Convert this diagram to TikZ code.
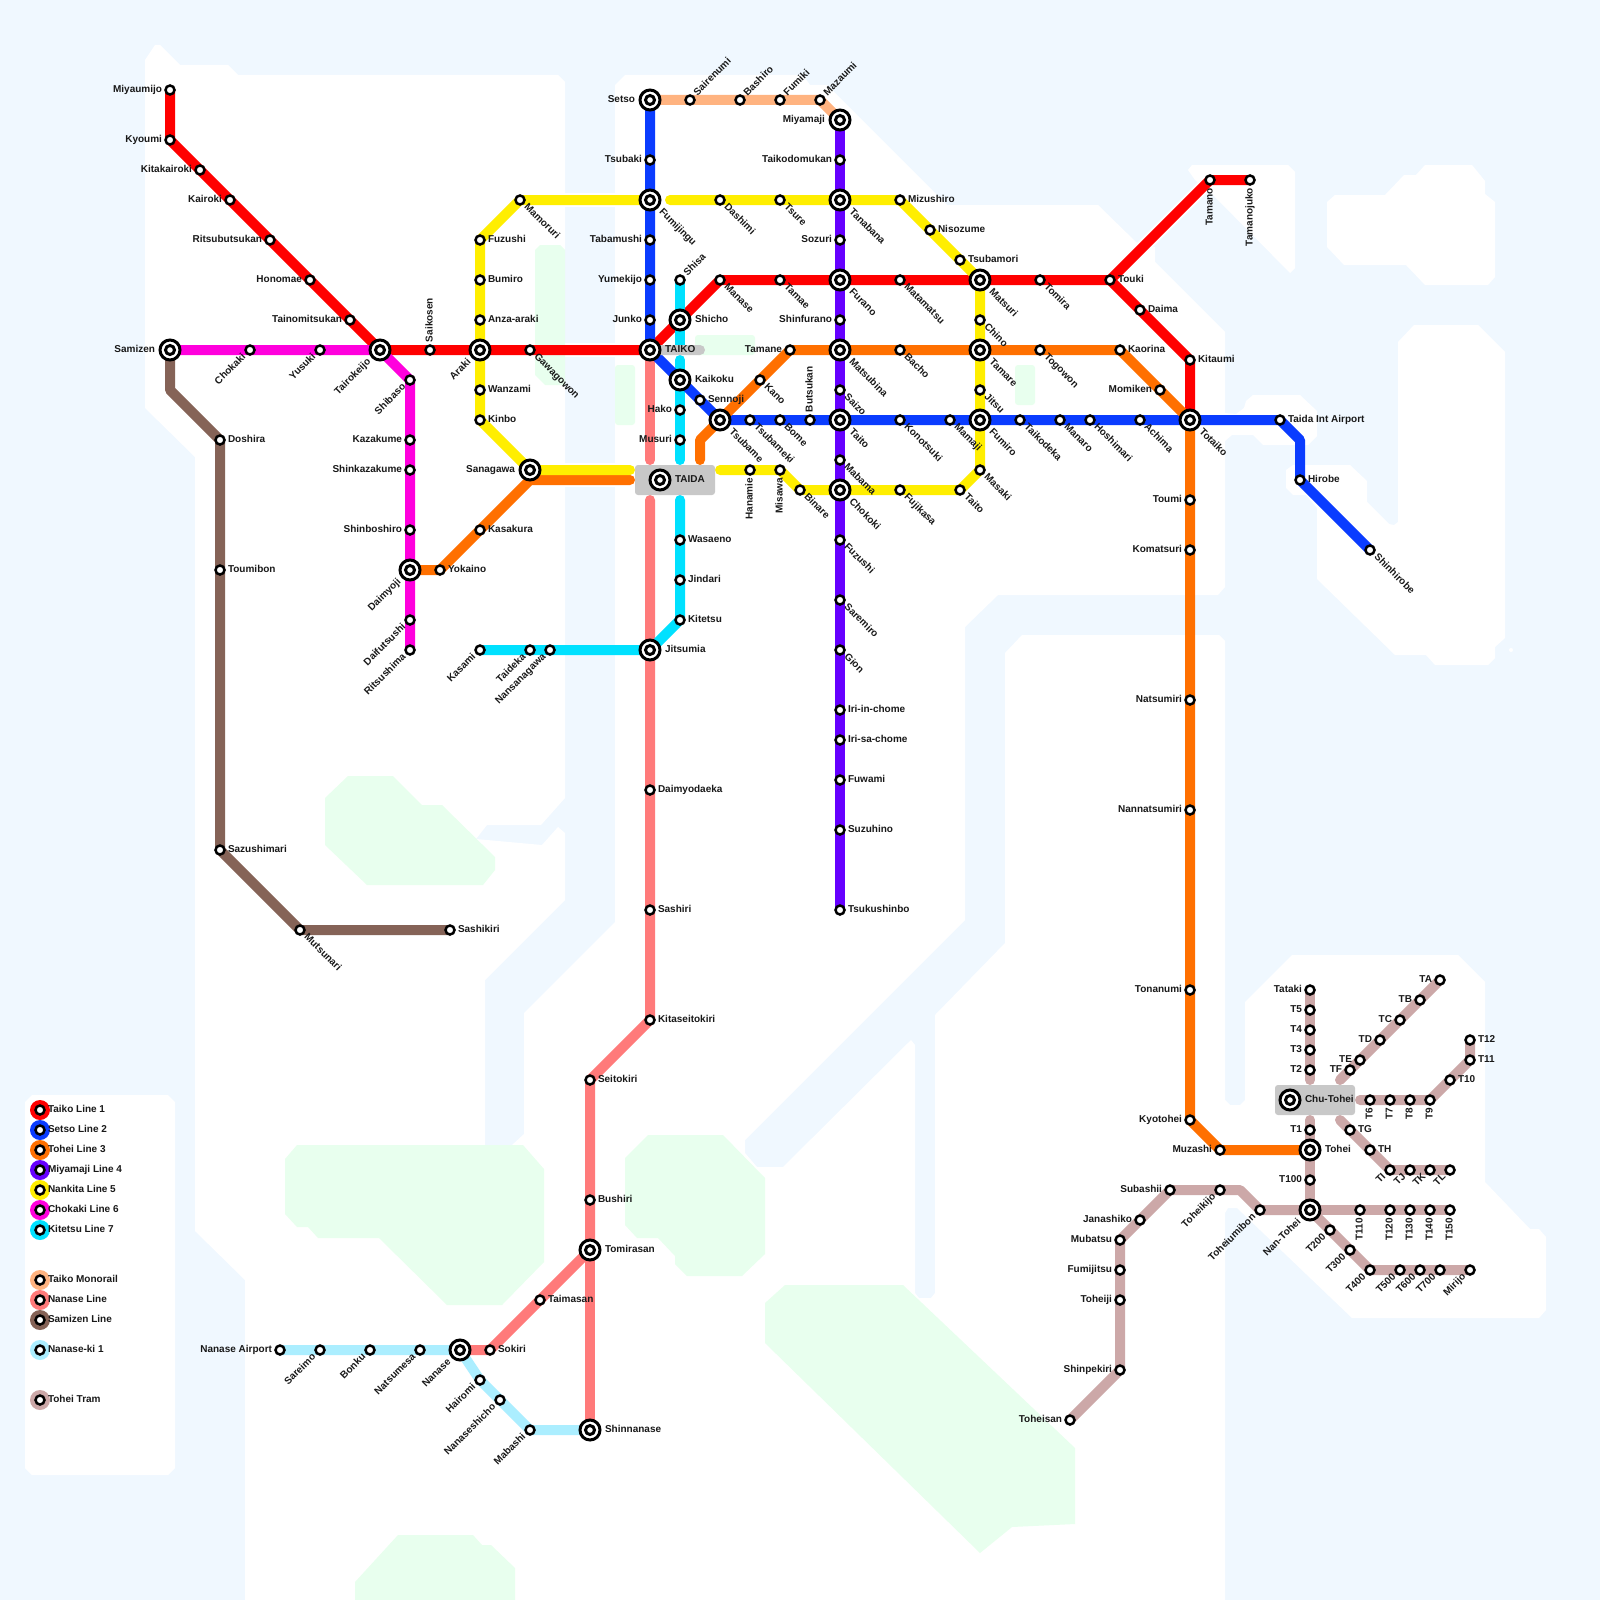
\documentclass[tikz,border=0pt]{standalone}
\usepackage{fontspec}
\usepackage{xcolor}
\usepackage{tikz}
\usetikzlibrary{calc}
\setmainfont{Liberation Sans}
\definecolor{sea}{HTML}{F0F8FF}
\definecolor{park}{HTML}{E8FFEE}
\definecolor{hubbox}{HTML}{C8C8C8}
\definecolor{taikored}{HTML}{FF0000}
\definecolor{setsoblue}{HTML}{0A3CFF}
\definecolor{toheiorange}{HTML}{FF7000}
\definecolor{miyamajipurple}{HTML}{6600FF}
\definecolor{nankitayellow}{HTML}{FFEE00}
\definecolor{chokakipink}{HTML}{FF00DD}
\definecolor{kitetsucyan}{HTML}{00E1FF}
\definecolor{monorailtan}{HTML}{FFB380}
\definecolor{nanasesalmon}{HTML}{FF7A7A}
\definecolor{samizenbrown}{HTML}{856357}
\definecolor{nanasekisky}{HTML}{ABEEFF}
\definecolor{tramrose}{HTML}{CCA8A8}
\pgfdeclarelayer{land}
\pgfdeclarelayer{tracks}
\pgfsetlayers{land,tracks,main}

\begin{document}
\begin{tikzpicture}[
    x=1pt, y=-1pt,
    stn/.style={circle, draw=black, line width=2.5pt, fill=white, inner sep=0pt, outer sep=3.5pt, minimum size=9pt},
    hub/.style={circle, draw=black, line width=3pt, fill=white, inner sep=0pt, outer sep=5pt, minimum size=20pt,
        path picture={\draw[black, line width=3pt] (path picture bounding box.center) circle (4.5pt);}},
    lbltxt/.style={font=\bfseries\fontsize{10}{12}\selectfont, inner sep=0pt, outer sep=0pt, text height=7.2pt, text depth=2pt, text=black!90},
    lr/.style={label={[lbltxt, anchor=west]0:#1}},
    ll/.style={label={[lbltxt, anchor=east]180:#1}},
    lu/.style={label={[lbltxt, rotate=90, anchor=west]90:#1}},
    ld/.style={label={[lbltxt, rotate=90, anchor=east]-90:#1}},
    lur/.style={label={[lbltxt, rotate=45, anchor=west]45:#1}},
    ldr/.style={label={[lbltxt, rotate=-45, anchor=west]-45:#1}},
    ldl/.style={label={[lbltxt, rotate=45, anchor=east]-135:#1}},
    metro/.style={line width=10pt, line cap=round, line join=round},
    landfill/.style={fill=white},
    parkfill/.style={fill=park},
    hubplate/.style={fill=hubbox, rounded corners=3pt},
    legdot/.style={circle, fill=#1, inner sep=0pt, minimum size=20pt}
]
    \useasboundingbox (0,0) rectangle (1600,1600);

    % stations
    \node[stn, ll=Miyaumijo] (miyaumijo) at (170,90) {};
    \node[stn, ll=Kyoumi] (kyoumi) at (170,140) {};
    \node[stn, ll=Kitakairoki] (kitakairoki) at (200,170) {};
    \node[stn, ll=Kairoki] (kairoki) at (230,200) {};
    \node[stn, ll=Ritsubutsukan] (ritsubutsukan) at (270,240) {};
    \node[stn, ll=Honomae] (honomae) at (310,280) {};
    \node[stn, ll=Tainomitsukan] (tainomitsukan) at (350,320) {};
    \node[hub, ldl=Tairokeijo] (tairokeijo) at (380,350) {};
    \node[stn, lu=Saikosen] (saikosen) at (430,350) {};
    \node[hub, ldl=Araki] (araki) at (480,350) {};
    \node[stn, ldr=Gawagowon] (gawagowon) at (530,350) {};
    \node[hub, lr=TAIKO] (taiko) at (650,350) {};
    \node[hub, lr=Shicho] (shicho) at (680,320) {};
    \node[stn, ldr=Manase] (manase) at (720,280) {};
    \node[stn, ldr=Tamae] (tamae) at (780,280) {};
    \node[hub, ldr=Furano] (furano) at (840,280) {};
    \node[stn, ldr=Matamatsu] (matamatsu) at (900,280) {};
    \node[hub, ldr=Matsuri] (matsuri) at (980,280) {};
    \node[stn, ldr=Tomira] (tomira) at (1040,280) {};
    \node[stn, lr=Touki] (touki) at (1110,280) {};
    \node[stn, ld=Tamano] (tamano) at (1210,180) {};
    \node[stn, ld=Tamanojuko] (tamanojuko) at (1250,180) {};
    \node[stn, lr=Daima] (daima) at (1140,310) {};
    \node[stn, lr=Kitaumi] (kitaumi) at (1190,360) {};
    \node[hub, ldr=Totaiko] (totaiko) at (1190,420) {};

    \node[hub, ll=Setso] (setso) at (650,100) {};
    \node[stn, ll=Tsubaki] (tsubaki) at (650,160) {};
    \node[hub, ldr=Fumijingu] (fumijingu) at (650,200) {};
    \node[stn, ll=Tabamushi] (tabamushi) at (650,240) {};
    \node[stn, ll=Yumekijo] (yumekijo) at (650,280) {};
    \node[stn, ll=Junko] (junko) at (650,320) {};
    \node[hub, lr=Kaikoku] (kaikoku) at (680,380) {};
    \node[stn, lr=Sennoji] (sennoji) at (700,400) {};
    \node[hub, ldr=Tsubame] (tsubame) at (720,420) {};
    \node[stn, ldr=Tsubameki] (tsubameki) at (750,420) {};
    \node[stn, ldr=Bome] (bome) at (780,420) {};
    \node[stn, lu=Butsukan] (butsukan) at (810,420) {};
    \node[hub, ldr=Taito] (taitoa) at (840,420) {};
    \node[stn, ldr=Konotsuki] (konotsuki) at (900,420) {};
    \node[stn, ldr=Mamaji] (mamaji) at (950,420) {};
    \node[hub, ldr=Fumiro] (fumiro) at (980,420) {};
    \node[stn, ldr=Taikodeka] (taikodeka) at (1020,420) {};
    \node[stn, ldr=Manaro] (manaro) at (1060,420) {};
    \node[stn, ldr=Hoshimari] (hoshimari) at (1090,420) {};
    \node[stn, ldr=Achima] (achima) at (1140,420) {};
    \node[stn, lr=Taida Int Airport] (airport) at (1280,420) {};
    \node[stn, lr=Hirobe] (hirobe) at (1300,480) {};
    \node[stn, ldr=Shinhirobe] (shinhirobe) at (1370,550) {};

    \node[stn, lr=Yokaino] (yokaino) at (440,570) {};
    \node[stn, lr=Kasakura] (kasakura) at (480,530) {};
    \node[hub, ll=Sanagawa] (sanagawa) at (530,470) {};
    \node[stn, ldr=Kano] (kano) at (760,380) {};
    \node[stn, ll=Tamane] (tamane) at (790,350) {};
    \node[hub, ldr=Matsubina] (matsubina) at (840,350) {};
    \node[stn, ldr=Bacho] (bacho) at (900,350) {};
    \node[hub, ldr=Tamare] (tamare) at (980,350) {};
    \node[stn, ldr=Togowon] (togowon) at (1040,350) {};
    \node[stn, lr=Kaorina] (kaorina) at (1120,350) {};
    \node[stn, ll=Momiken] (momiken) at (1160,390) {};
    \node[stn, ll=Toumi] (toumi) at (1190,500) {};
    \node[stn, ll=Komatsuri] (komatsuri) at (1190,550) {};
    \node[stn, ll=Natsumiri] (natsumiri) at (1190,700) {};
    \node[stn, ll=Nannatsumiri] (nannatsumiri) at (1190,810) {};
    \node[stn, ll=Tonanumi] (tonanumi) at (1190,990) {};
    \node[stn, ll=Kyotohei] (kyotohei) at (1190,1120) {};
    \node[stn, ll=Muzashi] (muzashi) at (1220,1150) {};
    \node[hub, lr=Tohei] (tohei) at (1310,1150) {};

    \node[hub, ll=Miyamaji] (miyamaji) at (840,120) {};
    \node[stn, ll=Taikodomukan] (taikodomukan) at (840,160) {};
    \node[hub, ldr=Tanabana] (tanabana) at (840,200) {};
    \node[stn, ll=Sozuri] (sozuri) at (840,240) {};
    \node[stn, ll=Shinfurano] (shinfurano) at (840,320) {};
    \node[stn, ldr=Saizo] (saizo) at (840,390) {};
    \node[stn, ldr=Mabama] (mabama) at (840,460) {};
    \node[hub, ldr=Chokoki] (chokoki) at (840,490) {};
    \node[stn, ldr=Fuzushi] (fuzushib) at (840,540) {};
    \node[stn, ldr=Saremiro] (saremiro) at (840,600) {};
    \node[stn, ldr=Gion] (gion) at (840,650) {};
    \node[stn, lr=Iri-in-chome] (iriin) at (840,710) {};
    \node[stn, lr=Iri-sa-chome] (irisa) at (840,740) {};
    \node[stn, lr=Fuwami] (fuwami) at (840,780) {};
    \node[stn, lr=Suzuhino] (suzuhino) at (840,830) {};
    \node[stn, lr=Tsukushinbo] (tsukushinbo) at (840,910) {};

    \node[stn, ldr=Mamoruri] (mamoruri) at (520,200) {};
    \node[stn, lr=Fuzushi] (fuzushia) at (480,240) {};
    \node[stn, lr=Bumiro] (bumiro) at (480,280) {};
    \node[stn, lr=Anza-araki] (anzaaraki) at (480,320) {};
    \node[stn, lr=Wanzami] (wanzami) at (480,390) {};
    \node[stn, lr=Kinbo] (kinbo) at (480,420) {};
    \node[stn, ldr=Dashimi] (dashimi) at (720,200) {};
    \node[stn, ldr=Tsure] (tsure) at (780,200) {};
    \node[stn, lr=Mizushiro] (mizushiro) at (900,200) {};
    \node[stn, lr=Nisozume] (nisozume) at (930,230) {};
    \node[stn, lr=Tsubamori] (tsubamori) at (960,260) {};
    \node[stn, ldr=Chino] (chino) at (980,320) {};
    \node[stn, ldr=Jitsu] (jitsu) at (980,390) {};
    \node[stn, ldr=Masaki] (masaki) at (980,470) {};
    \node[stn, ldr=Taito] (taitob) at (960,490) {};
    \node[stn, ldr=Fujikasa] (fujikasa) at (900,490) {};
    \node[stn, ldr=Binare] (binare) at (800,490) {};
    \node[stn, ld=Misawa] (misawa) at (780,470) {};
    \node[stn, ld=Hanamie] (hanamie) at (750,470) {};

    \node[hub, ll=Samizen] (samizen) at (170,350) {};
    \node[stn, ldl=Chokaki] (chokaki) at (250,350) {};
    \node[stn, ldl=Yusuki] (yusuki) at (320,350) {};
    \node[stn, ldl=Shibaso] (shibaso) at (410,380) {};
    \node[stn, ll=Kazakume] (kazakume) at (410,440) {};
    \node[stn, ll=Shinkazakume] (shinkazakume) at (410,470) {};
    \node[stn, ll=Shinboshiro] (shinboshiro) at (410,530) {};
    \node[hub, ldl=Daimyoji] (daimyoji) at (410,570) {};
    \node[stn, ldl=Daifutsushi] (daifutsushi) at (410,620) {};
    \node[stn, ldl=Ritsushima] (ritsushima) at (410,650) {};

    \node[stn, lur=Shisa] (shisa) at (680,280) {};
    \node[stn, ll=Hako] (hako) at (680,410) {};
    \node[stn, ll=Musuri] (musuri) at (680,440) {};
    \node[hub, lr=TAIDA] (taida) at (660,480) {};
    \node[stn, lr=Wasaeno] (wasaeno) at (680,540) {};
    \node[stn, lr=Jindari] (jindari) at (680,580) {};
    \node[stn, lr=Kitetsu] (kitetsu) at (680,620) {};
    \node[hub, lr=Jitsumia] (jitsumia) at (650,650) {};
    \node[stn, ldl=Nansanagawa] (nansanagawa) at (550,650) {};
    \node[stn, ldl=Taideka] (taideka) at (530,650) {};
    \node[stn, ldl=Kasami] (kasami) at (480,650) {};

    \node[stn, lur=Sairenumi] (sairenumi) at (690,100) {};
    \node[stn, lur=Bashiro] (bashiro) at (740,100) {};
    \node[stn, lur=Fumiki] (fumiki) at (780,100) {};
    \node[stn, lur=Mazaumi] (mazaumi) at (820,100) {};

    \node[stn, lr=Daimyodaeka] (daimyodaeka) at (650,790) {};
    \node[stn, lr=Sashiri] (sashiri) at (650,910) {};
    \node[stn, lr=Kitaseitokiri] (kitaseitokiri) at (650,1020) {};
    \node[stn, lr=Seitokiri] (seitokiri) at (590,1080) {};
    \node[stn, lr=Bushiri] (bushiri) at (590,1200) {};
    \node[hub, lr=Tomirasan] (tomirasan) at (590,1250) {};
    \node[stn, lr=Taimasan] (taimasan) at (540,1300) {};
    \node[stn, lr=Sokiri] (sokiri) at (490,1350) {};
    \node[hub, ldl=Nanase] (nanase) at (460,1350) {};
    \node[hub, lr=Shinnanase] (shinnanase) at (590,1430) {};

    \node[stn, ll=Nanase Airport] (nanaseairport) at (280,1350) {};
    \node[stn, ldl=Sareimo] (sareimo) at (320,1350) {};
    \node[stn, ldl=Bonku] (bonku) at (370,1350) {};
    \node[stn, ldl=Natsumesa] (natsumesa) at (420,1350) {};
    \node[stn, ldl=Hairomi] (hairomi) at (480,1380) {};
    \node[stn, ldl=Nanaseshicho] (nanaseshicho) at (500,1400) {};
    \node[stn, ldl=Mabashi] (mabashi) at (530,1430) {};

    \node[stn, lr=Doshira] (doshira) at (220,440) {};
    \node[stn, lr=Toumibon] (toumibon) at (220,570) {};
    \node[stn, lr=Sazushimari] (sazushimari) at (220,850) {};
    \node[stn, ldr=Mutsunari] (mutsunari) at (300,930) {};
    \node[stn, lr=Sashikiri] (sashikiri) at (450,930) {};

    \node[hub, lr=Chu-Tohei] (chutohei) at (1290,1100) {};
    \node[stn, ll=Tataki] (tataki) at (1310,990) {};
    \node[stn, ll=T5] (tfive) at (1310,1010) {};
    \node[stn, ll=T4] (tfour) at (1310,1030) {};
    \node[stn, ll=T3] (tthree) at (1310,1050) {};
    \node[stn, ll=T2] (ttwo) at (1310,1070) {};
    \node[stn, ll=T1] (tone) at (1310,1130) {};
    \node[stn, ll=T100] (thundred) at (1310,1180) {};
    \node[hub, ldl=Nan-Tohei] (nantohei) at (1310,1210) {};
    \node[stn, ll=TA] (ta) at (1440,980) {};
    \node[stn, ll=TB] (tb) at (1420,1000) {};
    \node[stn, ll=TC] (tc) at (1400,1020) {};
    \node[stn, ll=TD] (td) at (1380,1040) {};
    \node[stn, ll=TE] (te) at (1360,1060) {};
    \node[stn, ll=TF] (tf) at (1350,1070) {};
    \node[stn, ld=T6] (tsix) at (1370,1100) {};
    \node[stn, ld=T7] (tseven) at (1390,1100) {};
    \node[stn, ld=T8] (teight) at (1410,1100) {};
    \node[stn, ld=T9] (tnine) at (1430,1100) {};
    \node[stn, lr=T10] (tten) at (1450,1080) {};
    \node[stn, lr=T11] (televen) at (1470,1060) {};
    \node[stn, lr=T12] (ttwelve) at (1470,1040) {};
    \node[stn, lr=TG] (tg) at (1350,1130) {};
    \node[stn, lr=TH] (th) at (1370,1150) {};
    \node[stn, ldl=TI] (ti) at (1390,1170) {};
    \node[stn, ldl=TJ] (tj) at (1410,1170) {};
    \node[stn, ldl=TK] (tk) at (1430,1170) {};
    \node[stn, ldl=TL] (tl) at (1450,1170) {};
    \node[stn, ld=T110] (tonefifty) at (1360,1210) {};
    \node[stn, ld=T120] (tonetwenty) at (1390,1210) {};
    \node[stn, ld=T130] (tonethirty) at (1410,1210) {};
    \node[stn, ld=T140] (toneforty) at (1430,1210) {};
    \node[stn, ld=T150] (tonefiveo) at (1450,1210) {};
    \node[stn, ldl=T200] (ttwohun) at (1330,1230) {};
    \node[stn, ldl=T300] (tthreehun) at (1350,1250) {};
    \node[stn, ldl=T400] (tfourhun) at (1370,1270) {};
    \node[stn, ldl=T500] (tfivehun) at (1400,1270) {};
    \node[stn, ldl=T600] (tsixhun) at (1420,1270) {};
    \node[stn, ldl=T700] (tsevenhun) at (1440,1270) {};
    \node[stn, ldl=Mirijo] (mirijo) at (1470,1270) {};
    \node[stn, ldl=Toheiumibon] (toheiumibon) at (1260,1210) {};
    \node[stn, ldl=Toheikijo] (toheikijo) at (1220,1190) {};
    \node[stn, ll=Subashii] (subashii) at (1170,1190) {};
    \node[stn, ll=Janashiko] (janashiko) at (1140,1220) {};
    \node[stn, ll=Mubatsu] (mubatsu) at (1120,1240) {};
    \node[stn, ll=Fumijitsu] (fumijitsu) at (1120,1270) {};
    \node[stn, ll=Toheiji] (toheiji) at (1120,1300) {};
    \node[stn, ll=Shinpekiri] (shinpekiri) at (1120,1370) {};
    \node[stn, ll=Toheisan] (toheisan) at (1070,1420) {};

    % legend
    \node[legdot=taikored] (dotone) at (40,1110) {};
    \node[legdot=setsoblue] (dottwo) at (40,1130) {};
    \node[legdot=toheiorange] (dotthree) at (40,1150) {};
    \node[legdot=miyamajipurple] (dotfour) at (40,1170) {};
    \node[legdot=nankitayellow] (dotfive) at (40,1190) {};
    \node[legdot=chokakipink] (dotsix) at (40,1210) {};
    \node[legdot=kitetsucyan] (dotseven) at (40,1230) {};
    \node[legdot=monorailtan] (dotmono) at (40,1280) {};
    \node[legdot=nanasesalmon] (dotnanase) at (40,1300) {};
    \node[legdot=samizenbrown] (dotsamizen) at (40,1320) {};
    \node[legdot=nanasekisky] (dotnanaseki) at (40,1350) {};
    \node[legdot=tramrose] (dottram) at (40,1400) {};
    \node[stn, lr=Taiko Line 1] (keyone) at (dotone) {};
    \node[stn, lr=Setso Line 2] (keytwo) at (dottwo) {};
    \node[stn, lr=Tohei Line 3] (keythree) at (dotthree) {};
    \node[stn, lr=Miyamaji Line 4] (keyfour) at (dotfour) {};
    \node[stn, lr=Nankita Line 5] (keyfive) at (dotfive) {};
    \node[stn, lr=Chokaki Line 6] (keysix) at (dotsix) {};
    \node[stn, lr=Kitetsu Line 7] (keyseven) at (dotseven) {};
    \node[stn, lr=Taiko Monorail] (keymono) at (dotmono) {};
    \node[stn, lr=Nanase Line] (keynanase) at (dotnanase) {};
    \node[stn, lr=Samizen Line] (keysamizen) at (dotsamizen) {};
    \node[stn, lr=Nanase-ki 1] (keynanaseki) at (dotnanaseki) {};
    \node[stn, lr=Tohei Tram] (keytram) at (dottram) {};

    % bends and line ends
    \coordinate (samizenbend) at (170,390);
    \coordinate (shisaend) at (680,345);
    \coordinate (hakostart) at (680,360);
    \coordinate (musuriend) at (680,460);
    \coordinate (wasaenostart) at (680,500);
    \coordinate (sanayellowend) at (630,470);
    \coordinate (sanaorangeend) at (630,480);
    \coordinate (sanaorangebend) at (530,480);
    \coordinate (dashimistart) at (670,200);
    \coordinate (hanamieend) at (720,470);
    \coordinate (tsubamebend) at (700,440);
    \coordinate (tsubameend) at (700,460);
    \coordinate (pinkend) at (650,460);
    \coordinate (pinkstart) at (650,500);
    \coordinate (airportbend) at (1300,440);
    \coordinate (tramtwoend) at (1310,1080);
    \coordinate (tramonestart) at (1310,1120);
    \coordinate (tramfend) at (1340,1080);
    \coordinate (tramgstart) at (1340,1120);
    \coordinate (tramsixstart) at (1360,1100);
    \coordinate (tramtenbend) at (1240,1190);

    \begin{pgfonlayer}{land}
        \fill[sea] (0,0) rectangle (1600,1600);
        \fill[landfill] (145,60) -- (155,45) -- (160,45) -- (180,65) -- (228,65) -- (238,75) -- (558,75) -- (565,82)
            -- (565,798) -- (541,825) -- (487,825) -- (476,839) -- (542,845) -- (558,827) -- (565,833) -- (565,900)
            -- (485,980) -- (485,1145) -- (512,1145) -- (524,1134) -- (524,1013) -- (615,922) -- (615,85) -- (625,75)
            -- (803,75) -- (810,85) -- (827,85) -- (947,205) -- (1098,205) -- (1137,243) -- (1155,247) -- (1155,262)
            -- (1225,332) -- (1225,587) -- (1218,595) -- (998,595) -- (965,627) -- (965,920) -- (745,1140) -- (745,1153)
            -- (757,1167) -- (783,1167) -- (911,1040) -- (915,1045) -- (915,1293) -- (919,1298) -- (931,1298) -- (935,1293)
            -- (935,1015) -- (1005,943) -- (1005,653) -- (1022,635) -- (1219,635) -- (1225,641) -- (1225,1100) -- (1230,1105)
            -- (1240,1105) -- (1245,1100) -- (1245,1002) -- (1292,955) -- (1458,955) -- (1485,982) -- (1485,1182) -- (1530,1229)
            -- (1539,1229) -- (1546,1237) -- (1546,1310) -- (1539,1318) -- (1352,1318) -- (1237,1208) -- (1228,1208) -- (1225,1213)
            -- (1225,1600) -- (245,1600) -- (245,1280) -- (195,1231) -- (195,457) -- (145,408) -- cycle;
        \fill[landfill] (1188,170) -- (1192,165) -- (1288,165) -- (1295,172) -- (1295,268) -- (1290,273) -- (1213,195) -- (1195,180) -- cycle;
        \fill[landfill] (1327,202) -- (1335,195) -- (1385,195) -- (1404,175) -- (1416,175) -- (1425,165) -- (1472,165) -- (1485,181)
            -- (1485,194) -- (1495,202) -- (1495,277) -- (1488,285) -- (1425,285) -- (1406,265) -- (1344,265) -- (1327,247) -- cycle;
        \fill[landfill] (1398,342) -- (1414,325) -- (1478,325) -- (1505,352) -- (1505,638) -- (1495,647) -- (1495,658) -- (1488,665)
            -- (1435,665) -- (1426,655) -- (1395,655) -- (1317,579) -- (1317,508) -- (1306,495) -- (1293,495) -- (1286,488)
            -- (1286,470) -- (1293,465) -- (1350,465) -- (1367,481) -- (1367,502) -- (1389,524) -- (1394,525) -- (1398,522) -- cycle;
        \fill[landfill] (1225,413) -- (1236,414) -- (1244,408) -- (1246,401) -- (1253,395) -- (1300,395) -- (1317,411) -- (1317,436)
            -- (1308,445) -- (1263,445) -- (1253,435) -- (1232,435) -- (1225,441) -- cycle;
        \fill[landfill] (1511,650) circle (2pt);
        \fill[landfill] (25,1102) -- (32,1095) -- (168,1095) -- (175,1102) -- (175,1468) -- (168,1475) -- (32,1475) -- (25,1468) -- cycle;
        \fill[landfill] (565,193) rectangle (615,207);
        \fill[landfill] (565,343) rectangle (615,357);
        \fill[landfill] (565,463) rectangle (615,487);
        \draw[white, line width=14pt] (touki.center) -- (tamano.center);
        \fill[parkfill] (535,250) -- (540,245) -- (560,245) -- (565,250) -- (565,385) -- (545,385) -- (535,375) -- cycle;
        \fill[parkfill, rounded corners=3pt] (615,365) rectangle (635,425);
        \fill[parkfill, rounded corners=3pt] (695,335) rectangle (755,355);
        \fill[parkfill, rounded corners=3pt] (1015,365) rectangle (1035,405);
        \fill[parkfill] (325,798) -- (348,776) -- (393,776) -- (422,805) -- (442,805) -- (495,857) -- (495,870) -- (483,885) -- (367,885) -- (325,845) -- cycle;
        \fill[parkfill] (285,1159) -- (297,1145) -- (523,1145) -- (544,1169) -- (544,1262) -- (502,1305) -- (447,1305) -- (379,1238)
            -- (318,1238) -- (308,1227) -- (297,1227) -- (285,1214) -- cycle;
        \fill[parkfill] (625,1158) -- (648,1135) -- (723,1135) -- (765,1178) -- (765,1254) -- (742,1276) -- (687,1276) -- (675,1264)
            -- (675,1256) -- (658,1238) -- (637,1238) -- (625,1225) -- cycle;
        \fill[parkfill] (355,1582) -- (398,1535) -- (473,1535) -- (482,1545) -- (491,1545) -- (515,1568) -- (515,1600) -- (355,1600) -- cycle;
        \fill[parkfill] (765,1303) -- (785,1285) -- (903,1285) -- (1075,1448) -- (1075,1524) -- (1012,1527) -- (980,1553) -- (765,1343) -- cycle;
    \end{pgfonlayer}

    \begin{pgfonlayer}{tracks}
        \draw[metro, taikored] (miyaumijo.center) -- (kyoumi.center) -- (kitakairoki.center) -- (kairoki.center) -- (ritsubutsukan.center) -- (honomae.center) -- (tainomitsukan.center) -- (tairokeijo.center) -- (saikosen.center) -- (araki.center) -- (gawagowon.center) -- (taiko.center) -- (shicho.center) -- (manase.center) -- (tamae.center) -- (furano.center) -- (matamatsu.center) -- (matsuri.center) -- (tomira.center) -- (touki.center) -- (tamano.center) -- (tamanojuko.center);
        \draw[metro, taikored] (touki.center) -- (daima.center) -- (kitaumi.center) -- (totaiko.center);
        \draw[metro, nanasesalmon] (taiko.center) -- (pinkend);
        \draw[metro, nanasesalmon] (pinkstart) -- (jitsumia.center) -- (daimyodaeka.center) -- (sashiri.center) -- (kitaseitokiri.center) -- (seitokiri.center) -- (bushiri.center) -- (tomirasan.center) -- (taimasan.center) -- (sokiri.center) -- (nanase.center);
        \draw[metro, nanasesalmon] (tomirasan.center) -- (shinnanase.center);
        \draw[metro, kitetsucyan] (shisa.center) -- (shicho.center) -- (shisaend);
        \draw[metro, kitetsucyan] (hakostart) -- (kaikoku.center) -- (hako.center) -- (musuri.center) -- (musuriend);
        \draw[metro, kitetsucyan] (wasaenostart) -- (wasaeno.center) -- (jindari.center) -- (kitetsu.center) -- (jitsumia.center) -- (nansanagawa.center) -- (taideka.center) -- (kasami.center);
        \draw[metro, setsoblue] (setso.center) -- (tsubaki.center) -- (fumijingu.center) -- (tabamushi.center) -- (yumekijo.center) -- (junko.center) -- (taiko.center) -- (kaikoku.center) -- (sennoji.center) -- (tsubame.center) -- (tsubameki.center) -- (bome.center) -- (butsukan.center) -- (taitoa.center) -- (konotsuki.center) -- (mamaji.center) -- (fumiro.center) -- (taikodeka.center) -- (manaro.center) -- (hoshimari.center) -- (achima.center) -- (totaiko.center) -- (airport.center) -- (airportbend) -- (hirobe.center) -- (shinhirobe.center);
        \draw[metro, toheiorange] (daimyoji.center) -- (yokaino.center) -- (kasakura.center) -- (sanaorangebend) -- (sanaorangeend);
        \draw[metro, toheiorange] (tsubameend) -- (tsubamebend) -- (tsubame.center) -- (kano.center) -- (tamane.center) -- (matsubina.center) -- (bacho.center) -- (tamare.center) -- (togowon.center) -- (kaorina.center) -- (momiken.center) -- (totaiko.center) -- (toumi.center) -- (komatsuri.center) -- (natsumiri.center) -- (nannatsumiri.center) -- (tonanumi.center) -- (kyotohei.center) -- (muzashi.center) -- (tohei.center);
        \draw[metro, miyamajipurple] (miyamaji.center) -- (taikodomukan.center) -- (tanabana.center) -- (sozuri.center) -- (furano.center) -- (shinfurano.center) -- (matsubina.center) -- (saizo.center) -- (taitoa.center) -- (mabama.center) -- (chokoki.center) -- (fuzushib.center) -- (saremiro.center) -- (gion.center) -- (iriin.center) -- (irisa.center) -- (fuwami.center) -- (suzuhino.center) -- (tsukushinbo.center);
        \draw[metro, nankitayellow] (fumijingu.center) -- (mamoruri.center) -- (fuzushia.center) -- (bumiro.center) -- (anzaaraki.center) -- (araki.center) -- (wanzami.center) -- (kinbo.center) -- (sanagawa.center) -- (sanayellowend);
        \draw[metro, nankitayellow] (dashimistart) -- (dashimi.center) -- (tsure.center) -- (tanabana.center) -- (mizushiro.center) -- (nisozume.center) -- (tsubamori.center) -- (matsuri.center) -- (chino.center) -- (tamare.center) -- (jitsu.center) -- (fumiro.center) -- (masaki.center) -- (taitob.center) -- (fujikasa.center) -- (chokoki.center) -- (binare.center) -- (misawa.center) -- (hanamie.center) -- (hanamieend);
        \draw[metro, chokakipink] (samizen.center) -- (chokaki.center) -- (yusuki.center) -- (tairokeijo.center) -- (shibaso.center) -- (kazakume.center) -- (shinkazakume.center) -- (shinboshiro.center) -- (daimyoji.center) -- (daifutsushi.center) -- (ritsushima.center);
        \draw[metro, monorailtan] (setso.center) -- (sairenumi.center) -- (bashiro.center) -- (fumiki.center) -- (mazaumi.center) -- (miyamaji.center);
        \draw[metro, samizenbrown] (samizen.center) -- (samizenbend) -- (doshira.center) -- (toumibon.center) -- (sazushimari.center) -- (mutsunari.center) -- (sashikiri.center);
        \draw[metro, nanasekisky] (nanaseairport.center) -- (sareimo.center) -- (bonku.center) -- (natsumesa.center) -- (nanase.center) -- (hairomi.center) -- (nanaseshicho.center) -- (mabashi.center) -- (shinnanase.center);
        \draw[metro, tramrose] (tataki.center) -- (tfive.center) -- (tfour.center) -- (tthree.center) -- (ttwo.center) -- (tramtwoend);
        \draw[metro, tramrose] (tramonestart) -- (tone.center) -- (tohei.center) -- (thundred.center) -- (nantohei.center);
        \draw[metro, tramrose] (ta.center) -- (tb.center) -- (tc.center) -- (td.center) -- (te.center) -- (tf.center) -- (tramfend);
        \draw[metro, tramrose] (tramsixstart) -- (tsix.center) -- (tseven.center) -- (teight.center) -- (tnine.center) -- (tten.center) -- (televen.center) -- (ttwelve.center);
        \draw[metro, tramrose] (tramgstart) -- (tg.center) -- (th.center) -- (ti.center) -- (tj.center) -- (tk.center) -- (tl.center);
        \draw[metro, tramrose] (nantohei.center) -- (tonefifty.center) -- (tonetwenty.center) -- (tonethirty.center) -- (toneforty.center) -- (tonefiveo.center);
        \draw[metro, tramrose] (nantohei.center) -- (ttwohun.center) -- (tthreehun.center) -- (tfourhun.center) -- (tfivehun.center) -- (tsixhun.center) -- (tsevenhun.center) -- (mirijo.center);
        \draw[metro, tramrose] (nantohei.center) -- (toheiumibon.center) -- (tramtenbend) -- (toheikijo.center) -- (subashii.center) -- (janashiko.center) -- (mubatsu.center) -- (fumijitsu.center) -- (toheiji.center) -- (shinpekiri.center) -- (toheisan.center);
        \fill[hubplate, rounded corners=5pt] (650,345) rectangle (705,355);
        \fill[hubplate] (635,465) rectangle (715,495);
        \fill[hubplate] (1275,1085) rectangle (1355,1115);
    \end{pgfonlayer}
\end{tikzpicture}
\end{document}
